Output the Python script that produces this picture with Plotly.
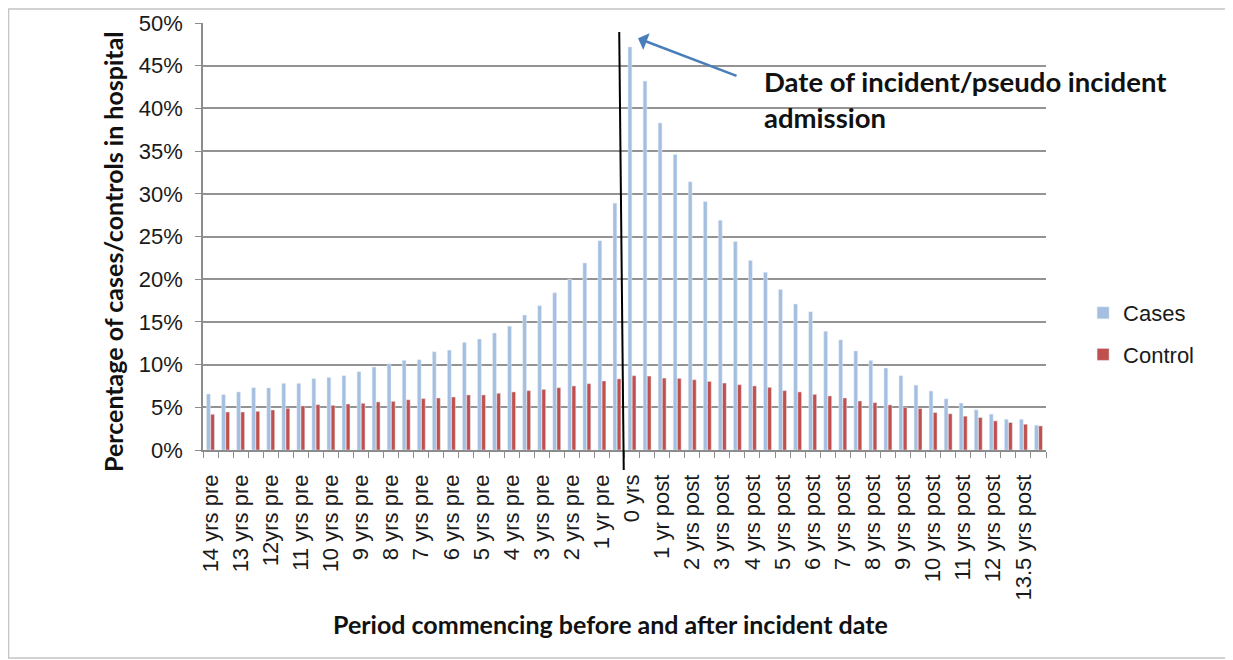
import plotly.graph_objects as go

# half-year periods, 14 yrs before to 13.5 yrs after the incident
categories = ([f"{14 - 0.5 * i:g} yrs pre" for i in range(28)] + ["0 yrs"]
              + [f"{0.5 * i:g} yrs post" for i in range(1, 28)])

# labels Excel printed on every second period
shown_labels = ["14 yrs pre", "13 yrs pre", "12yrs pre", "11 yrs pre", "10 yrs pre",
                "9 yrs pre", "8 yrs pre", "7 yrs pre", "6 yrs pre", "5 yrs pre",
                "4 yrs pre", "3 yrs pre", "2 yrs pre", "1 yr pre", "0 yrs",
                "1 yr post", "2 yrs post", "3 yrs post", "4 yrs post", "5 yrs post",
                "6 yrs post", "7 yrs post", "8 yrs post", "9 yrs post", "10 yrs post",
                "11 yrs post", "12 yrs post", "13.5 yrs post"]

cases = [6.56, 6.48, 6.8, 7.3, 7.27, 7.8, 7.8, 8.36, 8.5, 8.7,
         9.17, 9.72, 10.1, 10.5, 10.57, 11.5, 11.7, 12.6, 13.0, 13.7,
         14.5, 15.8, 16.9, 18.4, 20.0, 21.9, 24.5, 28.9, 47.2, 43.2,
         38.3, 34.6, 31.4, 29.1, 26.9, 24.4, 22.2, 20.8, 18.8, 17.1,
         16.2, 13.9, 12.9, 11.6, 10.5, 9.6, 8.7, 7.6, 6.9, 6.0,
         5.5, 4.7, 4.2, 3.6, 3.6, 2.9]

control = [4.18, 4.45, 4.45, 4.53, 4.69, 4.88, 5.16, 5.31, 5.23, 5.39,
           5.47, 5.63, 5.7, 5.88, 6.02, 6.09, 6.21, 6.45, 6.45, 6.64,
           6.8, 6.95, 7.1, 7.3, 7.5, 7.77, 8.08, 8.33, 8.7, 8.66,
           8.42, 8.39, 8.23, 8.03, 7.84, 7.65, 7.5, 7.34, 6.95, 6.8,
           6.52, 6.33, 6.09, 5.74, 5.55, 5.28, 4.99, 4.86, 4.39, 4.24,
           3.96, 3.8, 3.41, 3.22, 3.02, 2.82]

tick_text = [""] * len(categories)
for i, lab in enumerate(shown_labels):
    tick_text[2 * i] = lab

sans = "Liberation Sans, Arial, sans-serif"
bold = "Lato, Open Sans, sans-serif"

fig = go.Figure()
fig.add_trace(go.Bar(x=categories, y=cases, name="Cases", marker_color="#A5BFE0",
                     legendgroup="a"))
fig.add_trace(go.Bar(x=categories, y=control, name="Control", marker_color="#C0504D",
                     legendgroup="b"))

# page body adds 8px, so the figure is 8px smaller than the window
fig.update_layout(
    width=1225, height=652,
    margin=dict(l=195, r=187, t=15, b=210),
    paper_bgcolor="white", plot_bgcolor="white",
    barmode="group", bargap=0.45, bargroupgap=0.08,
    font=dict(family=sans, size=22, color="#1a1a1a"),
    showlegend=True,
    legend=dict(x=1.044, xanchor="left", y=0.37, yanchor="top",
                font=dict(size=22, family=sans), tracegroupgap=10,
                bgcolor="rgba(0,0,0,0)"),
)

fig.update_xaxes(
    type="category", tickmode="array", tickvals=categories, ticktext=tick_text,
    tickangle=-90, tickson="boundaries", ticks="outside", ticklen=6,
    tickcolor="#8c8c8c", showline=True, linecolor="#8c8c8c", linewidth=1.5,
    showgrid=False, tickfont=dict(size=22, family=sans), ticklabelstandoff=14,
    automargin=False,
)
fig.update_yaxes(
    range=[0, 50], dtick=5, ticksuffix="%", ticks="outside", ticklen=6,
    tickcolor="#8c8c8c", showline=True, linecolor="#8c8c8c", linewidth=1.5,
    showgrid=True, gridcolor="#939393", gridwidth=1.5, zeroline=False,
    tickfont=dict(size=22, family=sans), ticklabelstandoff=8, automargin=False,
)

# incident date marker
fig.add_shape(type="line", xref="x", yref="paper", x0=27.45, x1=27.15,
              y0=-0.047, y1=0.979, line=dict(color="black", width=2))

fig.add_annotation(x=28.4, y=48.2, xref="x", yref="y", ax=100, ay=38,
                   showarrow=True, arrowhead=1, arrowsize=1.2, arrowwidth=2.5,
                   arrowcolor="#4A7EBB", text="")

fig.add_annotation(x=0.663, y=0.862, xref="paper", yref="paper", xanchor="left",
                   yanchor="middle", showarrow=False,
                   text="<b>Date of incident/pseudo incident</b>",
                   font=dict(family=bold, size=27.5, color="#111"))
fig.add_annotation(x=0.663, y=0.778, xref="paper", yref="paper", xanchor="left",
                   yanchor="middle", showarrow=False, text="<b>admission</b>",
                   font=dict(family=bold, size=27.5, color="#111"))

# axis titles
fig.add_annotation(x=-0.1068, y=0.466, xref="paper", yref="paper", textangle=-90,
                   xanchor="center", yanchor="middle", showarrow=False,
                   text="<b>Percentage of cases/controls in hospital</b>",
                   font=dict(family=bold, size=25, color="#111"))
fig.add_annotation(x=0.483, y=-0.4075, xref="paper", yref="paper",
                   xanchor="center", yanchor="middle", showarrow=False,
                   text="<b>Period commencing before and after incident date</b>",
                   font=dict(family=bold, size=25, color="#111"))

# chart frame
fig.add_shape(type="rect", xref="paper", yref="paper", x0=-0.2307, x1=1.2147,
              y0=-0.487, y1=1.033, line=dict(color="#c4c4c4", width=1.5))

fig.write_html("out.html")
